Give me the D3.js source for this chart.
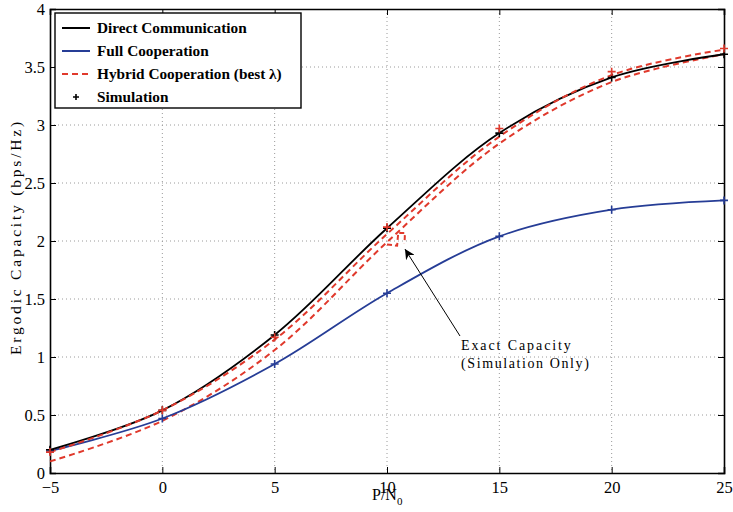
<!DOCTYPE html>
<html>
<head>
<meta charset="utf-8">
<script src="https://cdn.jsdelivr.net/npm/d3@7"></script>
<style>
  body { margin: 0; background: #fff; }
  svg { display: block; }
  text { font-family: "Liberation Serif", "DejaVu Serif", serif; }
</style>
</head>
<body>
<svg width="733" height="512"></svg>
<script>
// values
var snr = [-5, 0, 5, 10, 15, 20, 25];
var direct = [0.20, 0.54, 1.19, 2.11, 2.93, 3.41, 3.61];
var fullCoop = [0.19, 0.47, 0.94, 1.55, 2.04, 2.27, 2.35];
var hybridA = [0.18, 0.54, 1.15, 2.06, 2.90, 3.43, 3.65];
var hybridB = [0.10, 0.45, 1.06, 1.99, 2.84, 3.37, 3.61];
var simDirect = [0.20, 0.54, 1.19, 2.11, 2.93, 3.41, 3.61];
var simFull = [0.19, 0.47, 0.94, 1.55, 2.04, 2.27, 2.35];
var simHybrid = [0.18, 0.54, 1.17, 2.12, 2.97, 3.46, 3.66];
// short "simulation only" trace near 10 dB
var exactX = [10.0, 10.45, 10.5, 10.8, 10.78];
var exactY = [1.97, 1.96, 2.07, 2.07, 1.98];
var xTicks = [-5, 0, 5, 10, 15, 20, 25];
var yTicks = [0, 0.5, 1, 1.5, 2, 2.5, 3, 3.5, 4];

var svg = d3.select("svg");
var plotLeft = 50, plotRight = 724, plotTop = 9, plotBottom = 473;
var x = d3.scaleLinear().domain([-5, 25]).range([plotLeft, plotRight]);
var y = d3.scaleLinear().domain([0, 4]).range([plotBottom, plotTop]);

var blue = "#263d96";
var red = "#e0392c";

// grid
svg.append("g").selectAll("line").data(xTicks.slice(1, -1)).enter()
    .append("line")
    .attr("x1", function(d) { return x(d); })
    .attr("x2", function(d) { return x(d); })
    .attr("y1", plotTop).attr("y2", plotBottom)
    .attr("stroke", "#9a9a9a").attr("stroke-width", 1)
    .attr("stroke-dasharray", "1,3");
svg.append("g").selectAll("line").data(yTicks.slice(1, -1)).enter()
    .append("line")
    .attr("y1", function(d) { return y(d); })
    .attr("y2", function(d) { return y(d); })
    .attr("x1", plotLeft).attr("x2", plotRight)
    .attr("stroke", "#9a9a9a").attr("stroke-width", 1)
    .attr("stroke-dasharray", "1,3");

// axes with inward ticks, MATLAB-like box
var fmt = function(d) { return d < 0 ? "\u2212" + Math.abs(d) : String(d); };
svg.append("g")
    .attr("transform", "translate(0," + plotBottom + ")")
    .call(d3.axisBottom(x).tickValues(xTicks).tickSize(-6).tickPadding(8).tickFormat(fmt));
svg.append("g")
    .attr("transform", "translate(" + plotLeft + ",0)")
    .call(d3.axisLeft(y).tickValues(yTicks).tickSize(-6).tickPadding(5).tickFormat(d3.format("~g")));
svg.append("g")
    .attr("transform", "translate(0," + plotTop + ")")
    .call(d3.axisTop(x).tickValues(xTicks).tickSize(-6).tickFormat(""));
svg.append("g")
    .attr("transform", "translate(" + plotRight + ",0)")
    .call(d3.axisRight(y).tickValues(yTicks).tickSize(-6).tickFormat(""));
svg.selectAll(".domain").attr("stroke", "#000").attr("stroke-width", 1.6);
svg.selectAll(".tick line").attr("stroke", "#000");
svg.selectAll(".tick text")
    .attr("font-family", "Liberation Serif, serif")
    .attr("font-size", "16.5px")
    .attr("fill", "#000");

// curves
function series(xs, ys) {
    return xs.map(function(v, i) { return [v, ys[i]]; });
}
var line = d3.line()
    .x(function(d) { return x(d[0]); })
    .y(function(d) { return y(d[1]); })
    .curve(d3.curveCatmullRom.alpha(0.5));

svg.append("path").datum(series(snr, hybridB))
    .attr("d", line).attr("fill", "none")
    .attr("stroke", red).attr("stroke-width", 2).attr("stroke-dasharray", "6,4");
svg.append("path").datum(series(snr, fullCoop))
    .attr("d", line).attr("fill", "none")
    .attr("stroke", blue).attr("stroke-width", 1.8);
svg.append("path").datum(series(snr, direct))
    .attr("d", line).attr("fill", "none")
    .attr("stroke", "#000").attr("stroke-width", 1.8);
svg.append("path").datum(series(snr, hybridA))
    .attr("d", line).attr("fill", "none")
    .attr("stroke", red).attr("stroke-width", 2).attr("stroke-dasharray", "6,4");
svg.append("path").datum(series(exactX, exactY))
    .attr("d", d3.line().x(function(d) { return x(d[0]); }).y(function(d) { return y(d[1]); }))
    .attr("fill", "none")
    .attr("stroke", red).attr("stroke-width", 2).attr("stroke-dasharray", "5,3");

// simulation markers
function plus(data, color) {
    svg.append("g").selectAll("path").data(data).enter()
        .append("path")
        .attr("d", function(d) {
            var cx = x(d[0]), cy = y(d[1]);
            return "M" + (cx - 4) + "," + cy + "H" + (cx + 4) + "M" + cx + "," + (cy - 4) + "V" + (cy + 4);
        })
        .attr("stroke", color).attr("stroke-width", 1.6);
}
plus(series(snr, simFull), blue);
plus(series(snr, simDirect), "#000");
plus(series(snr, simHybrid), red);

// annotation
svg.append("defs").append("marker")
    .attr("id", "arrow").attr("viewBox", "0 0 10 10")
    .attr("refX", 10).attr("refY", 5)
    .attr("markerWidth", 10).attr("markerHeight", 10)
    .attr("markerUnits", "userSpaceOnUse")
    .attr("orient", "auto")
    .append("path").attr("d", "M0,0L10,5L0,10L3,5Z").attr("fill", "#000");
svg.append("line")
    .attr("x1", 460).attr("y1", 336)
    .attr("x2", x(10.8)).attr("y2", y(1.93))
    .attr("stroke", "#000").attr("stroke-width", 1)
    .attr("marker-end", "url(#arrow)");
svg.append("text")
    .attr("x", 461).attr("y", 350)
    .text("Exact Capacity")
    .attr("font-size", "14px").attr("letter-spacing", "1.9px");
svg.append("text")
    .attr("x", 461).attr("y", 368)
    .text("(Simulation Only)")
    .attr("font-size", "14px").attr("letter-spacing", "1.6px");

// axis labels
svg.append("text")
    .attr("transform", "translate(21,237) rotate(-90)")
    .attr("text-anchor", "middle")
    .text("Ergodic Capacity (bps/Hz)")
    .attr("font-size", "15.5px").attr("letter-spacing", "2.8px");
var xl = svg.append("text")
    .attr("x", 372).attr("y", 500)
    .attr("font-size", "16px");
xl.append("tspan").text("P/N");
xl.append("tspan").text("0").attr("font-size", "11px").attr("dy", 5);

// legend
var legend = svg.append("g");
legend.append("rect")
    .attr("x", 55).attr("y", 13).attr("width", 246).attr("height", 95)
    .attr("fill", "#fff").attr("stroke", "#000").attr("stroke-width", 1.4);
var legendItems = [
    { label: "Direct Communication", color: "#000", dash: null },
    { label: "Full Cooperation", color: blue, dash: null },
    { label: "Hybrid Cooperation (best \u03bb)", color: red, dash: "6,4" },
    { label: "Simulation", color: "#000", dash: "plus" }
];
legendItems.forEach(function(item, i) {
    var ly = 28 + i * 23;
    if (item.dash === "plus") {
        legend.append("path")
            .attr("d", "M73," + ly + "H79M76," + (ly - 3) + "V" + (ly + 3))
            .attr("stroke", "#000").attr("stroke-width", 1.6);
    } else {
        legend.append("line")
            .attr("x1", 62).attr("x2", 90).attr("y1", ly).attr("y2", ly)
            .attr("stroke", item.color).attr("stroke-width", 2)
            .attr("stroke-dasharray", item.dash);
    }
    legend.append("text")
        .attr("x", 97).attr("y", ly + 5)
        .text(item.label)
        .attr("font-size", "15.3px").attr("font-weight", "bold");
});
</script>
</body>
</html>
